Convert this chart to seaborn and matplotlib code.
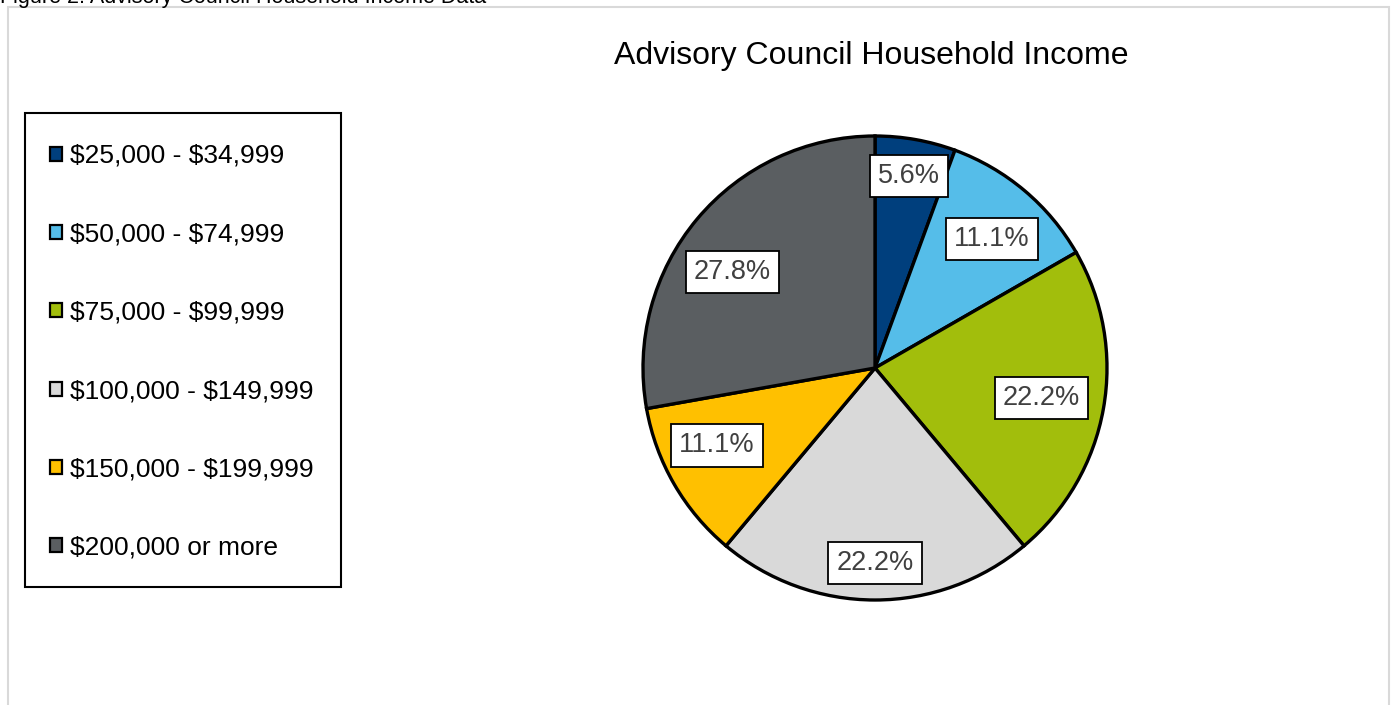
import numpy as np
import matplotlib
matplotlib.use("Agg")
import matplotlib.pyplot as plt
from matplotlib.patches import Patch, Rectangle
import seaborn as sns

# household income brackets and share of advisory council members (%)
categories = ["$25,000 - $34,999", "$50,000 - $74,999", "$75,000 - $99,999",
              "$100,000 - $149,999", "$150,000 - $199,999", "$200,000 or more"]
shares = [5.6, 11.1, 22.2, 22.2, 11.1, 27.8]
colors = ["#003F7D", "#55BDE9", "#A2BE0C", "#D9D9D9", "#FFC000", "#5A5E61"]

title = "Advisory Council Household Income"
caption = "Figure 2: Advisory Council Household Income Data"

sns.set_theme(style="white")
plt.rcParams["font.family"] = ["Liberation Sans", "DejaVu Sans"]
plt.rcParams["text.parse_math"] = False  # dollar signs are literal

W, H = 1394, 705
fig = plt.figure(figsize=(W / 100, H / 100), dpi=100)

# light gray frame around the chart area (runs off the bottom)
fig.patches.append(Rectangle((8 / W, -0.05), (1389 - 8) / W, 1 - 7 / H + 0.05,
                             transform=fig.transFigure, fill=False,
                             edgecolor="#D9D9D9", linewidth=1.5))

fig.text(0, 1 - 3 / H, caption, fontsize=15.5, color="black", va="baseline", ha="left")
fig.text(871 / W, 1 - 56 / H, title, fontsize=23, color="black", va="center", ha="center")

# pie axes sized to the circle
cx, cy, r = 875, 368, 232
ax = fig.add_axes([(cx - r) / W, 1 - (cy + r) / H, 2 * r / W, 2 * r / H])
wedges, _ = ax.pie(shares, colors=colors, startangle=90, counterclock=False,
                   wedgeprops=dict(edgecolor="black", linewidth=2.4))
for w in wedges:
    w.set_clip_on(False)
ax.set_xlim(-1, 1)
ax.set_ylim(-1, 1)
ax.set_aspect("equal")
ax.axis("off")

# data labels, placed Excel "best fit"-like
label_dist = [0.84, 0.75, 0.73, 0.84, 0.76, 0.74]
label_shift = [0, -2, 0, 0, -4, 6]
for w, val, d, s in zip(wedges, shares, label_dist, label_shift):
    ang = np.deg2rad((w.theta1 + w.theta2) / 2 + s)
    ax.text(d * np.cos(ang), d * np.sin(ang), f"{val:.1f}%", fontsize=19.5,
            color="#404040", ha="center", va="center",
            bbox=dict(boxstyle="square,pad=0.3", facecolor="white",
                      edgecolor="black", linewidth=1.3))

# legend box drawn separately so padding can differ per side
fig.patches.append(Rectangle((25 / W, 1 - 587 / H), (341 - 25) / W, (587 - 113) / H,
                             transform=fig.transFigure, facecolor="white",
                             edgecolor="black", linewidth=1.5, zorder=0))
handles = [Patch(facecolor=c, edgecolor="black", linewidth=1.6) for c in colors]
leg = fig.legend(handles, categories, loc="upper left",
                 bbox_to_anchor=(50 / W, 1 - 144 / H), borderaxespad=0,
                 fontsize=19, frameon=False,
                 handlelength=0.45, handleheight=0.45, handletextpad=0.3,
                 labelspacing=2.06, borderpad=0)
for t in leg.get_texts():
    t.set_color("black")

fig.savefig("out.png", dpi=100, facecolor="white")
